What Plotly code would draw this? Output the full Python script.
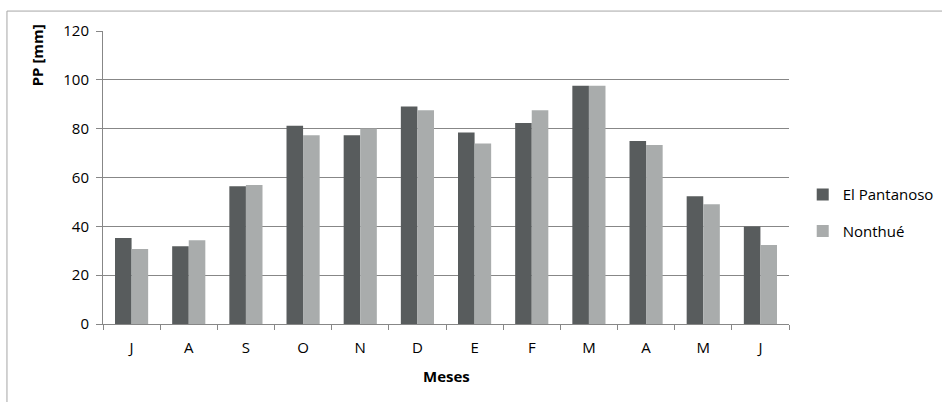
import plotly.graph_objects as go

months = ["J", "A", "S", "O", "N", "D", "E", "F", "M", "A", "M", "J"]
el_pantanoso = [35.2, 31.8, 56.4, 81.2, 77.3, 89.1, 78.4, 82.3, 97.6, 74.9, 52.3, 39.9]
nonthue = [30.7, 34.3, 56.9, 77.3, 80.1, 87.5, 73.9, 87.5, 97.6, 73.3, 49.0, 32.4]
y_ticks = [0, 20, 40, 60, 80, 100, 120]

positions = list(range(len(months)))
boundaries = [i - 0.5 for i in range(len(months) + 1)]

FONT = "Open Sans"
AXIS_GRAY = "#878787"

fig = go.Figure()
fig.add_trace(go.Bar(x=positions, y=el_pantanoso, name="El Pantanoso",
                     marker=dict(color="#585C5D", line=dict(width=0)),
                     legendgroup="a"))
fig.add_trace(go.Bar(x=positions, y=nonthue, name="Nonthué",
                     marker=dict(color="#A9ACAC", line=dict(width=0)),
                     legendgroup="b"))
# invisible trace carrying the boundary ticks on the overlay axis
fig.add_trace(go.Scatter(x=[boundaries[0]], y=[0], xaxis="x2", mode="markers",
                         marker=dict(opacity=0), showlegend=False, hoverinfo="skip"))

fig.update_layout(
    width=942, height=402,
    margin=dict(l=103, r=153, t=31, b=78, autoexpand=False),
    paper_bgcolor="white", plot_bgcolor="white",
    barmode="group", bargap=0.42, bargroupgap=0,
    font=dict(family=FONT, size=15, color="#000000"),
    xaxis=dict(range=[-0.5, 11.5], tickmode="array", tickvals=positions, ticktext=months,
               showgrid=False, zeroline=False, showline=True, linecolor=AXIS_GRAY,
               linewidth=1, ticks="", ticklabelstandoff=10,
               tickfont=dict(family=FONT, size=15)),
    xaxis2=dict(range=[-0.5, 11.5], overlaying="x", tickmode="array", tickvals=boundaries,
                showticklabels=False, ticks="outside", ticklen=5, tickcolor=AXIS_GRAY,
                showgrid=False, zeroline=False, showline=False, side="bottom", anchor="y"),
    yaxis=dict(range=[0, 120], tickmode="array", tickvals=y_ticks,
               showgrid=True, gridcolor=AXIS_GRAY, gridwidth=1,
               zeroline=False, showline=True, linecolor=AXIS_GRAY, linewidth=1,
               ticks="outside", ticklen=6, tickcolor=AXIS_GRAY, ticklabelstandoff=4,
               tickfont=dict(family=FONT, size=15)),
    legend=dict(x=1.02, y=0.38, xanchor="left", yanchor="middle",
                font=dict(family=FONT, size=15), tracegroupgap=14,
                itemwidth=30, bgcolor="rgba(0,0,0,0)"),
    showlegend=True,
)

fig.add_annotation(text="<b>PP [mm]</b>", xref="paper", yref="paper",
                   x=-0.096, y=1.03, xanchor="center", yanchor="top", textangle=-90,
                   showarrow=False, font=dict(family=FONT, size=15))
fig.add_annotation(text="<b>Meses</b>", xref="paper", yref="paper",
                   x=0.5, y=-0.178, xanchor="center", yanchor="middle",
                   showarrow=False, font=dict(family=FONT, size=15))

# chart frame
fig.add_shape(type="rect", xref="paper", yref="paper",
              x0=-0.14, x1=1.4, y0=-0.5, y1=1.068,
              line=dict(color="#A6A6A6", width=1), fillcolor="rgba(0,0,0,0)", layer="below")

fig.write_html("out.html")
